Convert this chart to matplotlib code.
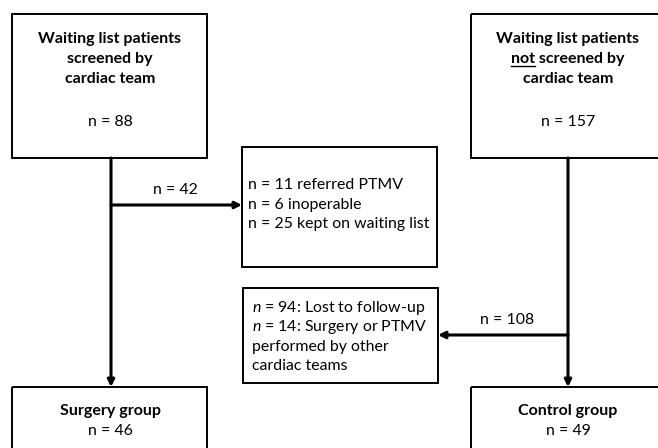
import matplotlib
matplotlib.use("Agg")
import matplotlib.pyplot as plt
from matplotlib.patches import Rectangle

plt.rcParams['font.family'] = ['Lato', 'DejaVu Sans']
plt.rcParams['mathtext.fontset'] = 'custom'
plt.rcParams['mathtext.it'] = 'Lato:italic'
plt.rcParams['mathtext.rm'] = 'Lato'

# flowchart content
screened_title = ["Waiting list patients", "screened by", "cardiac team"]
not_screened_title = ["Waiting list patients", "not screened by", "cardiac team"]
n_screened = 88
n_not_screened = 157
n_referred_out = 42
outcome_lines = ["n = 11 referred PTMV", "n = 6 inoperable", "n = 25 kept on waiting list"]
n_lost_branch = 108
lost_lines = ["$n$ = 94: Lost to follow-up", "$n$ = 14: Surgery or PTMV",
              "performed by other", "cardiac teams"]
groups = ["Surgery group", "Control group"]
n_groups = [46, 49]

W, H = 658, 448
fig = plt.figure(figsize=(W / 100, H / 100), dpi=100)
ax = fig.add_axes([0, 0, 1, 1])
ax.set_xlim(0, W)
ax.set_ylim(H, 0)
ax.axis("off")

FS = 11.4
FSB = 11.5
LW = 1.4


def box(x0, y0, x1, y1):
    ax.add_patch(Rectangle((x0, y0), x1 - x0, y1 - y0, fill=False,
                           edgecolor="black", linewidth=LW, zorder=2))


def arrow(x0, y0, x1, y1):
    ax.annotate("", xy=(x1, y1), xytext=(x0, y0),
                arrowprops=dict(arrowstyle="-|>", color="black", lw=2.2,
                                mutation_scale=10, shrinkA=0, shrinkB=0))


# top boxes
box(12, 14, 207, 158)
box(471, 14, 700, 158)
for i, line in enumerate(screened_title):
    ax.text(110, 39 + i * 20, line, ha="center", va="center", fontsize=FSB, fontweight="bold")
ax.text(110, 122, "n = %d" % n_screened, ha="center", va="center", fontsize=FS)
txts = []
for i, line in enumerate(not_screened_title):
    t = ax.text(568, 39 + i * 20, line, ha="center", va="center", fontsize=FSB, fontweight="bold")
    txts.append(t)
ax.text(568, 122, "n = %d" % n_not_screened, ha="center", va="center", fontsize=FS)

# underline "not"
fig.canvas.draw()
r = fig.canvas.get_renderer()
bb = txts[1].get_window_extent(r)
tmp = ax.text(0, 0, "not", fontsize=FSB, fontweight="bold")
wn = tmp.get_window_extent(r).width
tmp.remove()
inv = ax.transData.inverted()
xa = inv.transform((bb.x0, bb.y0))[0]
xb = inv.transform((bb.x0 + wn, bb.y0))[0]
ax.plot([xa, xb], [66, 66], color="black", lw=1.0)

# left vertical + side branch
arrow(111, 158, 111, 387)
arrow(111, 205, 242, 205)
ax.text(175, 190, "n = %d" % n_referred_out, ha="center", va="center", fontsize=FS)
box(242, 147, 437, 267)
for i, line in enumerate(outcome_lines):
    ax.text(248, 185 + i * 19.5, line, ha="left", va="center", fontsize=FS)

# right vertical + side branch
arrow(568, 158, 568, 387)
arrow(568, 335, 438, 335)
ax.text(507, 320, "n = %d" % n_lost_branch, ha="center", va="center", fontsize=FS)
box(243, 288, 438, 383)
for i, line in enumerate(lost_lines):
    ax.text(252, 308 + i * 19.5, line, ha="left", va="center", fontsize=FS)

# bottom boxes
box(12, 387, 207, 470)
box(471, 387, 700, 470)
for xc, g, n in zip([110, 568], groups, n_groups):
    ax.text(xc, 411, g, ha="center", va="center", fontsize=FSB, fontweight="bold")
    ax.text(xc, 431, "n = %d" % n, ha="center", va="center", fontsize=FS)

fig.savefig("out.png", dpi=100)
